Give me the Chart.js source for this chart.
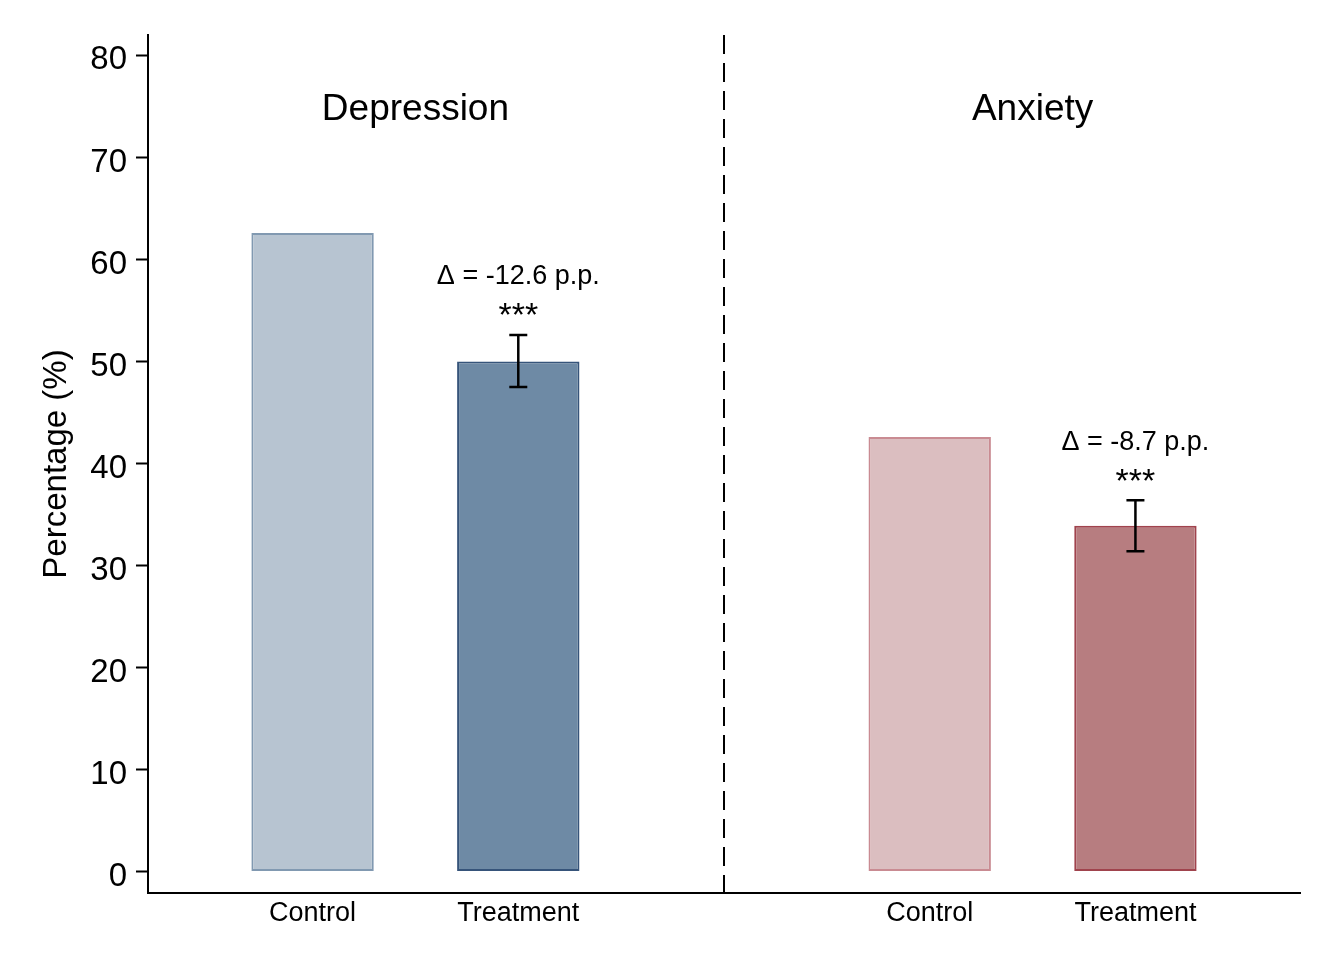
<!DOCTYPE html>
<html lang="en">
<head>
    <meta charset="UTF-8">
    <title>Depression and Anxiety: Control vs Treatment</title>
    <script src="https://cdn.jsdelivr.net/npm/chart.js"></script>
    <style>
        html, body { margin: 0; padding: 0; background: #fff; }
    </style>
</head>
<body>
    <canvas id="effectChart" width="1336" height="972"></canvas>

    <script>
        // Values
        const groups = ['Depression', 'Anxiety'];
        const armLabels = ['Control', 'Treatment', 'Control', 'Treatment'];
        const xPositions = [1, 2, 4, 5];
        const percentages = [62.6, 50.0, 42.6, 33.9];
        const errLow = [null, 47.5, null, 31.4];
        const errHigh = [null, 52.6, null, 36.4];
        const deltaLabels = [null, 'Δ = -12.6 p.p.', null, 'Δ = -8.7 p.p.'];
        const starLabels = [null, '***', null, '***'];
        const groupCenters = [1.5, 4.5];
        const dividerX = 3;
        const yTicks = [0, 10, 20, 30, 40, 50, 60, 70, 80];

        // Styling
        const FONT = '"Liberation Sans", Arial, Helvetica, sans-serif';
        const fills = ['#b7c4d1', '#6e8aa5', '#dbbec0', '#b77d80'];
        const borders = ['#8199b1', '#36547a', '#c98b92', '#a0434d'];

        Chart.defaults.font.family = FONT;
        Chart.defaults.color = '#000';

        // divider, group titles, error bars and significance labels
        const extras = {
            id: 'extras',
            beforeDatasetsDraw(chart) {
                const { ctx, chartArea, scales: { x } } = chart;
                const px = Math.round(x.getPixelForValue(dividerX));
                ctx.save();
                ctx.strokeStyle = '#000';
                ctx.lineWidth = 2;
                ctx.setLineDash([19, 9]);
                ctx.beginPath();
                ctx.moveTo(px, chartArea.top);
                ctx.lineTo(px, chartArea.bottom);
                ctx.stroke();
                ctx.restore();
            },
            afterDatasetsDraw(chart, args, opts) {
                const { ctx, scales: { x, y } } = chart;
                ctx.save();
                ctx.fillStyle = '#000';
                ctx.textAlign = 'center';
                ctx.textBaseline = 'middle';

                ctx.font = '37px ' + FONT;
                groups.forEach((g, i) => {
                    ctx.fillText(g, x.getPixelForValue(groupCenters[i]), y.getPixelForValue(opts.titleLevel));
                });

                ctx.strokeStyle = '#000';
                ctx.lineWidth = 2.5;
                xPositions.forEach((xv, i) => {
                    if (errLow[i] === null) return;
                    const cx = x.getPixelForValue(xv);
                    const top = y.getPixelForValue(errHigh[i]);
                    const bot = y.getPixelForValue(errLow[i]);
                    ctx.beginPath();
                    ctx.moveTo(cx, top); ctx.lineTo(cx, bot);
                    ctx.moveTo(cx - 9, top); ctx.lineTo(cx + 9, top);
                    ctx.moveTo(cx - 9, bot); ctx.lineTo(cx + 9, bot);
                    ctx.stroke();

                    ctx.font = '27px ' + FONT;
                    ctx.fillText(deltaLabels[i], cx, top - 58);
                    ctx.font = '34px ' + FONT;
                    ctx.fillText(starLabels[i], cx, top - 18);
                });
                ctx.restore();
            }
        };

        new Chart(document.getElementById('effectChart'), {
            type: 'bar',
            data: {
                datasets: [{
                    data: xPositions.map((xv, i) => ({ x: xv, y: percentages[i] })),
                    backgroundColor: fills,
                    borderColor: borders,
                    borderWidth: 2,
                    borderSkipped: false,
                    categoryPercentage: 1,
                    barPercentage: 0.595
                }]
            },
            options: {
                responsive: false,
                animation: false,
                devicePixelRatio: 1,
                layout: { padding: { left: 0, top: 35, right: 36, bottom: 0 } },
                plugins: {
                    legend: { display: false },
                    tooltip: { enabled: false },
                    extras: { titleLevel: 74.7 }
                },
                scales: {
                    x: {
                        type: 'linear',
                        offset: false,
                        min: 0.2,
                        max: 5.8,
                        afterBuildTicks: axis => { axis.ticks = xPositions.map(v => ({ value: v })); },
                        afterFit: axis => { axis.height = 79; },
                        grid: { display: false, drawTicks: false },
                        border: { display: true, color: '#000', width: 2 },
                        ticks: {
                            font: { size: 27 },
                            color: '#000',
                            padding: 4,
                            autoSkip: false,
                            maxRotation: 0,
                            callback: (v, i) => armLabels[i]
                        }
                    },
                    y: {
                        min: -2.1,
                        max: 82,
                        afterBuildTicks: axis => { axis.ticks = yTicks.map(v => ({ value: v })); },
                        afterFit: axis => { axis.width = 148; },
                        grid: { drawOnChartArea: false, drawTicks: true, tickLength: 12, tickColor: '#000', tickWidth: 2 },
                        border: { display: true, color: '#000', width: 2 },
                        ticks: { font: { size: 33 }, color: '#000', padding: 9, labelOffset: 5 },
                        title: {
                            display: true,
                            text: 'Percentage (%)',
                            font: { size: 33 },
                            color: '#000',
                            padding: { top: 37, bottom: 0 }
                        }
                    }
                }
            },
            plugins: [extras]
        });
    </script>
</body>
</html>
